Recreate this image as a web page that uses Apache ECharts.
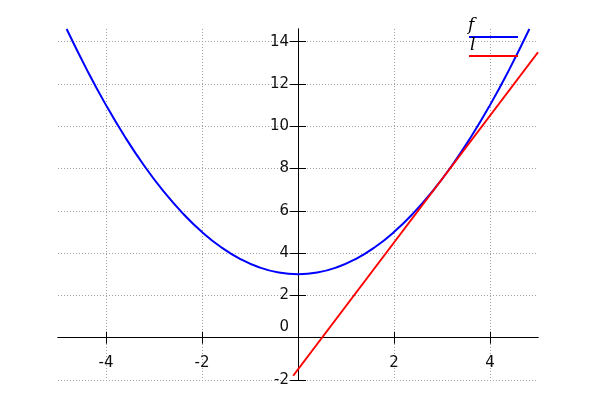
<!DOCTYPE html>
<html>
<head>
<meta charset="utf-8">
<script src="https://cdn.jsdelivr.net/npm/echarts@6/dist/echarts.min.js"></script>
<style>html,body{margin:0;padding:0;background:#fff}#chart{width:600px;height:400px}</style>
</head>
<body>
<div id="chart"></div>
<script>
// Data
const fX = [-4.82, -4.4, -4.0, -3.6, -3.2, -2.8, -2.4, -2.0, -1.6, -1.2, -0.8, -0.4, 0, 0.4, 0.8, 1.2, 1.6, 2.0, 2.4, 2.8, 3.2, 3.6, 4.0, 4.4, 4.82];
const fY = [14.6, 12.68, 11.0, 9.48, 8.12, 6.92, 5.88, 5.0, 4.28, 3.72, 3.32, 3.08, 3.0, 3.08, 3.32, 3.72, 4.28, 5.0, 5.88, 6.92, 8.12, 9.48, 11.0, 12.68, 14.6];
const lX = [-0.1, 5.0];
const lY = [-1.8, 13.5];
const xTicks = [-4, -2, 2, 4];
const yTicks = [-2, 0, 2, 4, 6, 8, 10, 12, 14];
const legendNames = ['f', 'l'];
const colors = ['#0000ff', '#ff0000'];

const xRange = [-5, 5];
const yRange = [-2, 14.6];

const fData = fX.map((x, i) => [x, fY[i]]);
const lData = lX.map((x, i) => [x, lY[i]]);

const W = 600, H = 400;
const G = {left: 58, right: 62, top: 29, bottom: 20};
const font = 'DejaVu Sans';
const fs = 15;
const gridLine = {show: true, lineStyle: {color: '#a0a0a0', type: [1, 2], width: 1}};
const axisLine = {onZero: false, lineStyle: {color: '#000', width: 1}};

const chart = echarts.init(document.getElementById('chart'), null, {renderer: 'canvas'});
const option = {
  animation: false,
  backgroundColor: '#ffffff',
  grid: {left: G.left, right: G.right, top: G.top, bottom: G.bottom, containLabel: false, outerBoundsMode: 'none'},
  xAxis: [
    {
      type: 'value', min: xRange[0], max: xRange[1], position: 'bottom', offset: 0,
      axisLine: axisLine,
      axisTick: {show: true, length: 6, customValues: xTicks, lineStyle: {color: '#000'}},
      axisLabel: {customValues: xTicks, margin: 18, color: '#111', fontFamily: font, fontSize: fs},
      splitLine: gridLine
    },
    {
      type: 'value', min: xRange[0], max: xRange[1], position: 'top', offset: 0,
      axisLine: axisLine,
      axisTick: {show: true, length: 6, customValues: xTicks, lineStyle: {color: '#000'}},
      axisLabel: {show: false},
      splitLine: {show: false}
    }
  ],
  yAxis: [
    {
      type: 'value', min: yRange[0], max: yRange[1], position: 'left', offset: 0,
      axisLine: axisLine,
      axisTick: {show: true, length: 8, customValues: yTicks, lineStyle: {color: '#000'}},
      axisLabel: {
        customValues: yTicks, margin: 9, color: '#111', fontFamily: font, fontSize: fs,
        formatter: v => v === 0 ? '{z|0}' : String(v),
        rich: {z: {fontFamily: font, fontSize: fs, color: '#111', padding: [0, 0, 22, 0]}}
      },
      splitLine: gridLine
    },
    {
      type: 'value', min: yRange[0], max: yRange[1], position: 'right', offset: 0,
      axisLine: axisLine,
      axisTick: {show: true, length: 8, customValues: yTicks, lineStyle: {color: '#000'}},
      axisLabel: {show: false},
      splitLine: {show: false}
    }
  ],
  graphic: [
    {type: 'line', shape: {x1: 469, y1: 37, x2: 518, y2: 37}, style: {stroke: colors[0], lineWidth: 2}, z: 100},
    {type: 'line', shape: {x1: 469, y1: 56, x2: 518, y2: 56}, style: {stroke: colors[1], lineWidth: 2}, z: 100},
    {type: 'text', x: 468, y: 26, style: {text: legendNames[0], font: 'italic 17px "DejaVu Serif"', fill: '#000', verticalAlign: 'middle', align: 'left'}, z: 100},
    {type: 'text', x: 470, y: 46, style: {text: legendNames[1], font: 'italic 17px "DejaVu Serif"', fill: '#000', verticalAlign: 'middle', align: 'left'}, z: 100}
  ],
  series: [
    {name: legendNames[0], type: 'line', xAxisIndex: 0, yAxisIndex: 0, data: fData, smooth: true, showSymbol: false, lineStyle: {color: colors[0], width: 2}, itemStyle: {color: colors[0]}, clip: false},
    {name: legendNames[1], type: 'line', xAxisIndex: 0, yAxisIndex: 0, data: lData, showSymbol: false, lineStyle: {color: colors[1], width: 2}, itemStyle: {color: colors[1]}, clip: false}
  ]
};
chart.setOption(option);

// Move the axes onto the zero lines, using the library's own scales
const zero = chart.convertToPixel({gridIndex: 0}, [0, 0]);
const gRight = W - G.right, gBottom = H - G.bottom;
chart.setOption({
  xAxis: [{offset: -(gBottom - zero[1])}, {offset: -(zero[1] - G.top)}],
  yAxis: [{offset: -(zero[0] - G.left)}, {offset: -(gRight - zero[0])}]
});
</script>
</body>
</html>
